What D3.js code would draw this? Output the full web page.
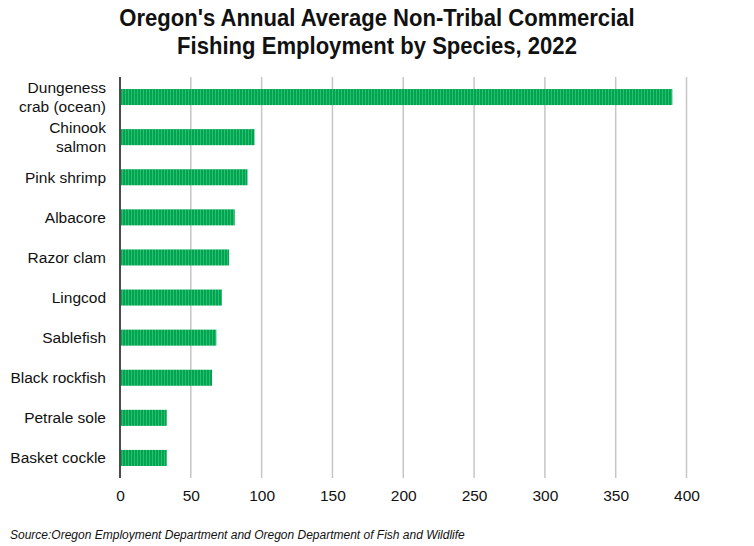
<!DOCTYPE html>
<html>
<head>
<meta charset="utf-8">
<script src="https://cdn.jsdelivr.net/npm/d3@7"></script>
<style>
    body { margin: 0; background: #fff; }
    svg { display: block; }
</style>
</head>
<body>
<svg id="chart" width="754" height="546"></svg>
<script>
// data
const species = [
    ['Dungeness', 'crab (ocean)'],
    ['Chinook', 'salmon'],
    ['Pink shrimp'],
    ['Albacore'],
    ['Razor clam'],
    ['Lingcod'],
    ['Sablefish'],
    ['Black rockfish'],
    ['Petrale sole'],
    ['Basket cockle']
];
const employment = [390, 95, 90, 81, 77, 72, 68, 65, 33, 33];
const xTicks = [0, 50, 100, 150, 200, 250, 300, 350, 400];

const width = 754;
const height = 546;
const margin = { top: 77, right: 66, bottom: 68, left: 120 };

const svg = d3.select('#chart');

// striped bar fill
const defs = svg.append('defs');
const pattern = defs
    .append('pattern')
    .attr('id', 'stripes')
    .attr('patternUnits', 'userSpaceOnUse')
    .attr('width', 3)
    .attr('height', 3);
pattern.append('rect').attr('width', 3).attr('height', 3).attr('fill', '#00a452');
pattern.append('rect').attr('x', 2).attr('width', 1).attr('height', 3).attr('fill', '#2bbf6c');

const x = d3
    .scaleLinear()
    .domain([0, 400])
    .range([margin.left, width - margin.right - 1.5]);

const y = d3
    .scaleBand()
    .domain(species.map((d, i) => i))
    .range([margin.top, height - margin.bottom])
    .paddingInner(0.6)
    .paddingOuter(0.3);

// title (narrowed a bit, the original uses a condensed face)
svg.append('text')
    .attr('transform', 'translate(377, 0) scale(0.92, 1)')
    .attr('text-anchor', 'middle')
    .style('font-family', '"Liberation Sans", Arial, sans-serif')
    .style('font-weight', 'bold')
    .style('font-size', '24px')
    .style('fill', '#111')
    .selectAll('tspan')
    .data(["Oregon's Annual Average Non-Tribal Commercial", 'Fishing Employment by Species, 2022'])
    .join('tspan')
    .attr('x', 0)
    .attr('y', (d, i) => 26 + i * 28)
    .text((d) => d);

// gridlines
svg.append('g')
    .selectAll('line')
    .data(xTicks.filter((t) => t > 0))
    .join('line')
    .attr('x1', (d) => x(d))
    .attr('x2', (d) => x(d))
    .attr('y1', margin.top)
    .attr('y2', height - margin.bottom)
    .attr('stroke', '#c6c6c6')
    .attr('stroke-width', 1.5);

// bars
svg.append('g')
    .selectAll('rect')
    .data(employment)
    .join('rect')
    .attr('x', x(0) + 1)
    .attr('y', (d, i) => y(i))
    .attr('width', (d) => x(d) - x(0) - 1)
    .attr('height', y.bandwidth())
    .attr('fill', 'url(#stripes)');

// y axis line
svg.append('line')
    .attr('x1', x(0))
    .attr('x2', x(0))
    .attr('y1', margin.top)
    .attr('y2', height - margin.bottom)
    .attr('stroke', '#111')
    .attr('stroke-width', 1.5);

// category labels
const labelFont = '"Liberation Sans", Arial, sans-serif';
svg.append('g')
    .selectAll('text')
    .data(species)
    .join('text')
    .attr('text-anchor', 'end')
    .style('font-family', labelFont)
    .style('font-size', '15.5px')
    .style('fill', '#111')
    .each(function (lines, i) {
        const cy = y(i) + y.bandwidth() / 2;
        const lineH = 18.5;
        const start = cy - ((lines.length - 1) * lineH) / 2 + 5.5;
        d3.select(this)
            .selectAll('tspan')
            .data(lines)
            .join('tspan')
            .attr('x', 106)
            .attr('y', (d, j) => start + j * lineH)
            .text((d) => d);
    });

// x axis tick labels
const xAxis = d3.axisBottom(x).tickValues(xTicks).tickSize(0).tickPadding(11);
svg.append('g')
    .attr('transform', `translate(0, ${height - margin.bottom + 1})`)
    .call(xAxis)
    .call((g) => g.select('.domain').remove())
    .call((g) =>
        g.selectAll('text')
            .style('font-family', labelFont)
            .style('font-size', '15.5px')
            .style('fill', '#111')
    );

// source
svg.append('text')
    .attr('x', 10)
    .attr('y', 539)
    .style('font-family', labelFont)
    .style('font-style', 'italic')
    .style('font-size', '12px')
    .style('fill', '#111')
    .text('Source:Oregon Employment Department and Oregon Department of Fish and Wildlife');
</script>
</body>
</html>
